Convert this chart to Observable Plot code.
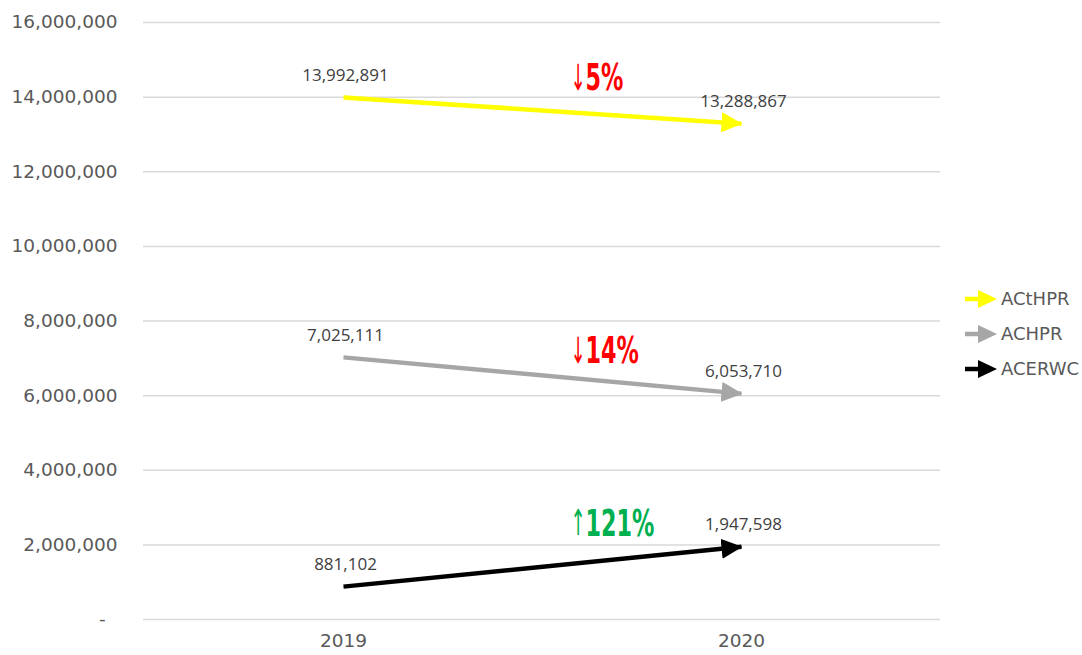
<!DOCTYPE html>
<html><head><meta charset="utf-8">
<script src="https://cdn.jsdelivr.net/npm/d3@7"></script>
<script src="https://cdn.jsdelivr.net/npm/@observablehq/plot@0.6"></script>
<style>
body{margin:0;background:#fff;}
#wrap{position:relative;width:1082px;height:655px;}
#legend{position:absolute;left:963px;top:281px;font-family:"DejaVu Sans",sans-serif;font-size:18px;color:#595959;}
.item{display:flex;align-items:center;height:35px;}
.item svg{margin-right:3px;}
</style></head><body><div id="wrap"><div id="chart"></div><div id="legend"></div></div>
<script>
const years = ["2019", "2020"];
const series = ["ACtHPR", "ACHPR", "ACERWC"];
const colors = ["#FFFF00", "#A6A6A6", "#000000"];
const values2019 = [13992891, 7025111, 881102];
const values2020 = [13288867, 6053710, 1947598];
const changeArrows = ["↓", "↓", "↑"];
const changes = ["5%", "14%", "121%"];
const changeColors = ["#FF0000", "#FF0000", "#00B050"];
const yTicks = [0, 2000000, 4000000, 6000000, 8000000, 10000000, 12000000, 14000000, 16000000];

const rows = [];
series.forEach((s, i) => {
  rows.push({series: s, year: years[0], value: values2019[i]});
  rows.push({series: s, year: years[1], value: values2020[i]});
});
const changeRows = series.map((s, i) => ({series: s, year: years[1], value: values2020[i], arrow: changeArrows[i], text: changes[i], color: changeColors[i]}));
const changeDy = {ACtHPR: -45, ACHPR: -42, ACERWC: -23};

function arrowMarker(color, context) {
  const doc = (context && context.document) || document;
  const ns = "http://www.w3.org/2000/svg";
  const m = doc.createElementNS(ns, "marker");
  m.setAttribute("viewBox", "-21 -10 21 20");
  m.setAttribute("markerWidth", 21);
  m.setAttribute("markerHeight", 20);
  m.setAttribute("markerUnits", "userSpaceOnUse");
  m.setAttribute("refX", -1);
  m.setAttribute("refY", 0);
  m.setAttribute("orient", "auto");
  const p = doc.createElementNS(ns, "path");
  p.setAttribute("d", "M-21,-10L0,0L-21,10Z");
  p.setAttribute("fill", color);
  p.setAttribute("stroke", "none");
  m.appendChild(p);
  return m;
}

const fmt = d3.format(",");
const chart = Plot.plot({
  width: 1082,
  height: 655,
  marginLeft: 143,
  marginRight: 142,
  marginTop: 22,
  marginBottom: 36,
  style: {fontFamily: "DejaVu Sans, sans-serif", fontSize: "18.5px", color: "#595959", background: "#fff"},
  x: {type: "point", domain: years, padding: 0.5},
  y: {domain: [0, 16000000]},
  color: {domain: series, range: colors},
  marks: [
    Plot.gridY(yTicks, {stroke: "#D9D9D9", strokeOpacity: 1, strokeWidth: 1.5}),
    Plot.axisY(yTicks, {tickSize: 0, tickPadding: 26, fontSize: 18.5, label: null,
      tickFormat: d => d === 0 ? "-\u00a0\u00a0" : fmt(d)}),
    Plot.axisX({tickSize: 0, tickPadding: 14, fontSize: 18.5, label: null}),
    Plot.line(rows, {x: "year", y: "value", z: "series", stroke: d => d.series, strokeWidth: 4.5, markerEnd: arrowMarker, strokeLinecap: "butt"}),
    Plot.text(rows, {x: "year", y: "value", text: d => fmt(d.value), dy: -22, dx: 2,
      fill: "#404040", fontFamily: "Open Sans, sans-serif", fontSize: 17, style: "letter-spacing:0.3px"}),
    ...series.map(s => Plot.text(changeRows.filter(d => d.series === s), {x: "year", y: "value", text: "arrow", fill: d => d.color,
      dx: -171, dy: changeDy[s], textAnchor: "start", fontFamily: "DejaVu Sans, sans-serif",
      fontWeight: "normal", fontSize: 36})),
    ...series.map(s => Plot.text(changeRows.filter(d => d.series === s), {x: "year", y: "value", text: "text", fill: d => d.color,
      dx: -156, dy: changeDy[s], textAnchor: "start", fontFamily: "DejaVu Sans Condensed, DejaVu Sans, sans-serif",
      fontWeight: "bold", fontSize: 37}))
  ]
});
document.getElementById("chart").appendChild(chart);
d3.select(chart).selectAll("text").each(function() {
  const s = this.textContent;
  const isArrow = /^[↓↑]$/.test(s);
  const isPct = /%$/.test(s);
  if (!isArrow && !isPct) return;
  const t = this.getAttribute("transform") || "";
  if (t) {
    this.setAttribute("transform", t + (isArrow ? " scale(0.5,1)" : " scale(0.67,1)"));
  } else {
    const w = this.getComputedTextLength();
    this.setAttribute("textLength", w * (isArrow ? 0.5 : 0.67));
    this.setAttribute("lengthAdjust", "spacingAndGlyphs");
  }
});

const legend = d3.select("#legend");
series.forEach((s, i) => {
  const item = legend.append("div").attr("class", "item");
  const svg = item.append("svg").attr("width", 35).attr("height", 20);
  svg.append("line").attr("x1", 2).attr("x2", 18).attr("y1", 10).attr("y2", 10).attr("stroke", colors[i]).attr("stroke-width", 4.5);
  svg.append("path").attr("d", "M15,1L34,10L15,19Z").attr("fill", colors[i]);
  item.append("span").text(s);
});
</script></body></html>
